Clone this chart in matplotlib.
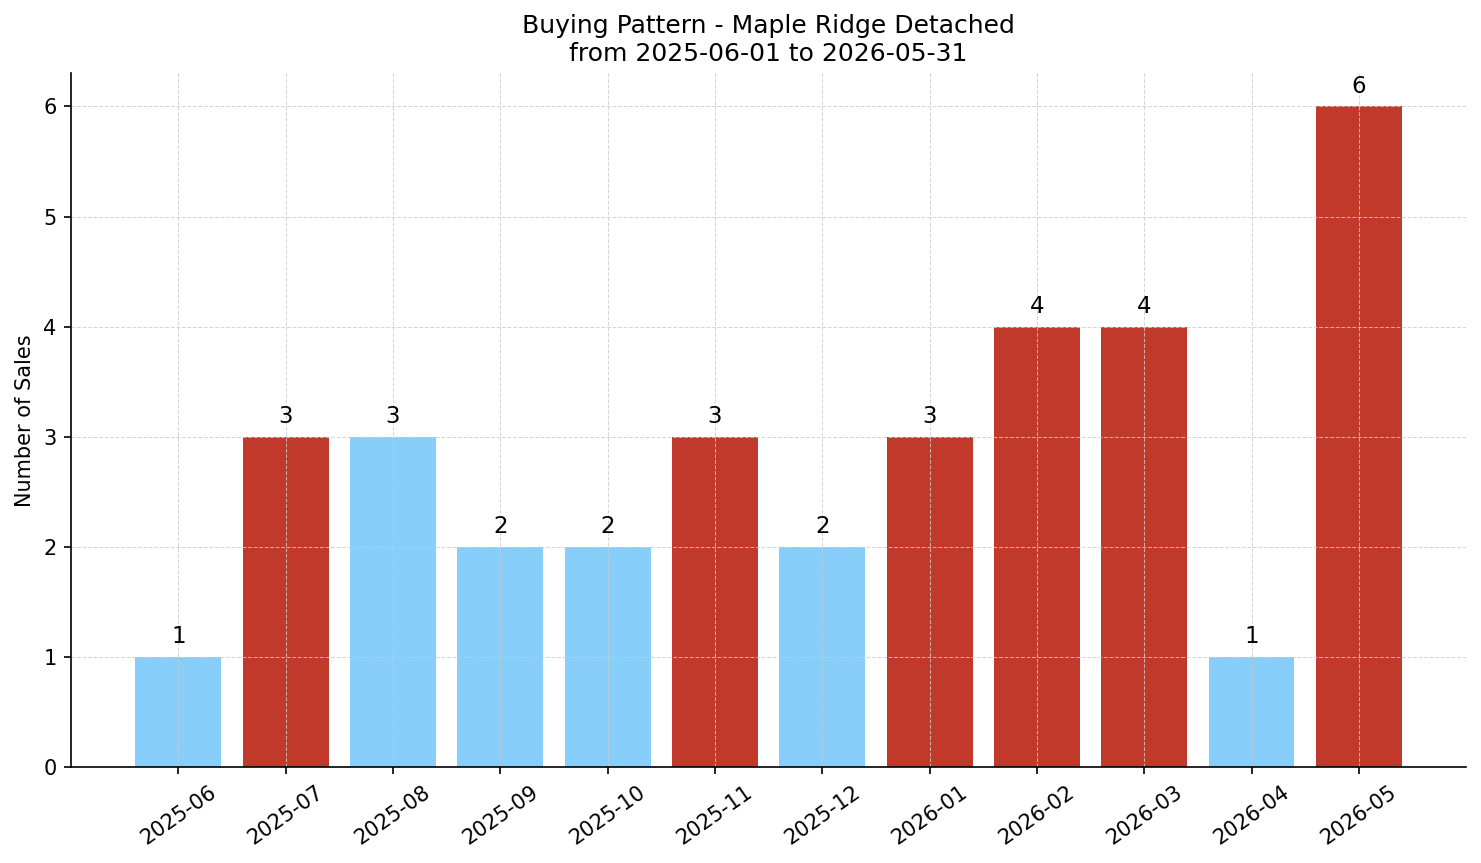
import matplotlib.pyplot as plt
import numpy as np

months = ['2025-06', '2025-07', '2025-08', '2025-09', '2025-10', '2025-11',
          '2025-12', '2026-01', '2026-02', '2026-03', '2026-04', '2026-05']
sales = [1, 3, 3, 2, 2, 3, 2, 3, 4, 4, 1, 6]
highlight = [False, True, False, False, False, True, False, True, True, True, False, True]

RED = '#C0392B'
BLUE = '#87CEFA'

fig, ax = plt.subplots(figsize=(1481 / 150, 863 / 150), dpi=150)

x = np.arange(len(months))
colors = [RED if h else BLUE for h in highlight]
bars = ax.bar(x, sales, width=0.8, color=colors)

for xi, v in zip(x, sales):
    ax.text(xi, v + 0.08, str(v), ha='center', va='bottom', fontsize=11)

ax.set_xticks(x)
ax.set_xticklabels(months, rotation=35, ha='center')
ax.set_xlim(-1, 12)
ax.set_ylim(0, 6.3)
ax.set_ylabel('Number of Sales')
ax.set_title('Buying Pattern - Maple Ridge Detached\nfrom 2025-06-01 to 2026-05-31', fontsize=12)
ax.grid(True, linestyle='--', color='#cccccc', alpha=0.8, linewidth=0.5)
ax.spines['top'].set_visible(False)
ax.spines['right'].set_visible(False)

fig.subplots_adjust(left=0.048, right=0.99, top=0.915, bottom=0.111)
plt.savefig('out.png', dpi=150)
